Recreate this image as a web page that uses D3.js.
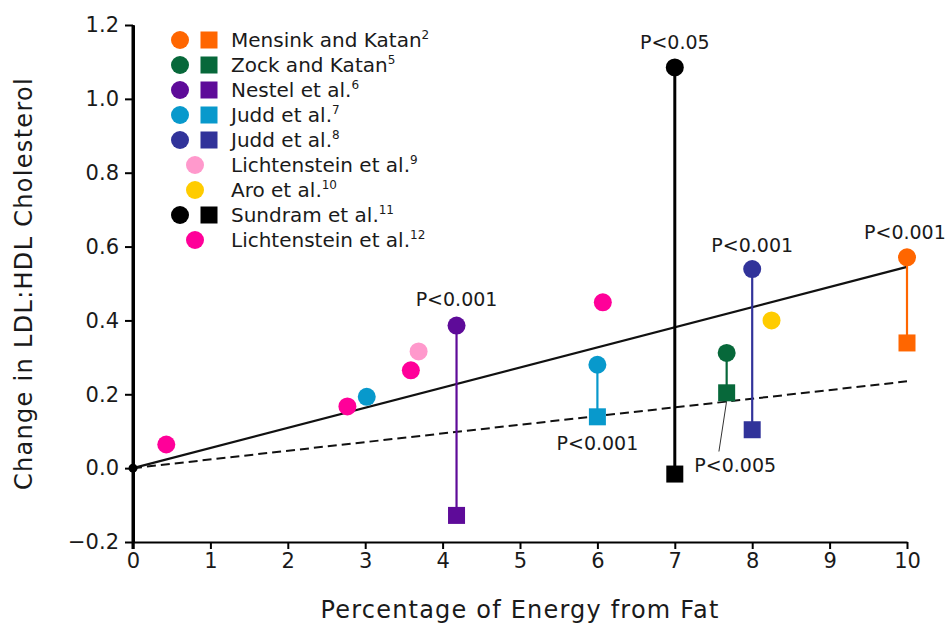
<!DOCTYPE html>
<html><head><meta charset="utf-8">
<script src="https://cdn.jsdelivr.net/npm/d3@7"></script>
<style>
body{margin:0;background:#fff;}
text{font-family:"DejaVu Sans",sans-serif;fill:#1a1a1a;}
</style></head>
<body><svg id="c" width="948" height="624"></svg>
<script>
// ---- data ----
const yTicks = [-0.2, 0.0, 0.2, 0.4, 0.6, 0.8, 1.0, 1.2];
const xTicks = [0, 1, 2, 3, 4, 5, 6, 7, 8, 9, 10];

const legendNames = ["Mensink and Katan","Zock and Katan","Nestel et al.","Judd et al.","Judd et al.","Lichtenstein et al.","Aro et al.","Sundram et al.","Lichtenstein et al."];
const legendRefs  = ["2","5","6","7","8","9","10","11","12"];
const legendSquare = [true,true,true,true,true,false,false,true,false];
const legendColors = ["#ff6600","#07683a","#5e0b99","#0899cc","#31339a","#ff99cc","#ffcc00","#000000","#ff0099"];

// paired studies: circle (trans) and square (comparison)
const pairStudy  = [0, 1, 2, 3, 4, 7];
const pairX      = [10, 7.67, 4.18, 6.0, 8.0, 7.0];
const pairCircle = [0.571, 0.312, 0.386, 0.280, 0.539, 1.085];
const pairSquare = [0.339, 0.204, -0.128, 0.139, 0.104, -0.016];

// single circles
const singleStudy = [8, 8, 8, 8, 5, 6, 3];
const singleX     = [0.43, 2.77, 3.59, 6.07, 3.69, 8.25, 3.02];
const singleY     = [0.064, 0.167, 0.265, 0.449, 0.316, 0.400, 0.193];

// regression lines
const lineX = [0, 10];
const solidY = [0, 0.545];
const dashedY = [0, 0.235];

// P value labels
const pLabels = ["P<0.001","P<0.05","P<0.001","P<0.001","P<0.001","P<0.005"];
const pLabelX = [4.18, 7.0, 8.0, 10.0, 6.0, 7.33];
const pLabelY = [0.44, 1.135, 0.585, 0.62, 0.05, -0.01];

// ---- drawing ----
const svg = d3.select("#c");
svg.append("rect").attr("width",948).attr("height",624).attr("fill","#fff");
const x = d3.scaleLinear().domain([0,10]).range([133,907]);
const y = d3.scaleLinear().domain([-0.2,1.2]).range([542,25]);

// axes
const yAxis = d3.axisLeft(y).tickValues(yTicks).tickFormat(d3.format(".1f")).tickSize(8).tickSizeOuter(0).tickPadding(6);
const gy = svg.append("g").attr("transform","translate(133,0)").call(yAxis);
gy.select(".domain").attr("stroke","#000").attr("stroke-width",3);
gy.selectAll(".tick line").attr("stroke","#000").attr("stroke-width",2);
gy.selectAll(".tick text").attr("font-size",21).attr("font-family","DejaVu Sans").attr("fill","#1a1a1a");

const xAxis = d3.axisBottom(x).tickValues(xTicks).tickFormat(d3.format("d")).tickSize(7).tickSizeOuter(0).tickPadding(4);
const gx = svg.append("g").attr("transform","translate(0,542)").call(xAxis);
gx.select(".domain").attr("stroke","#000").attr("stroke-width",2);
gx.selectAll(".tick line").attr("stroke","#000").attr("stroke-width",2);
gx.selectAll(".tick text").attr("font-size",21).attr("font-family","DejaVu Sans").attr("fill","#1a1a1a");
// extend y axis to the bottom
svg.append("line").attr("x1",133).attr("x2",133).attr("y1",y(1.2)).attr("y2",549).attr("stroke","#000").attr("stroke-width",3);

// titles
svg.append("text").attr("x",x(5)).attr("y",618).attr("text-anchor","middle")
  .attr("font-size",24).attr("letter-spacing",1.2).text("Percentage of Energy from Fat");
svg.append("text").attr("transform","translate(32,"+y(0.5)+") rotate(-90)").attr("text-anchor","middle")
  .attr("font-size",24).attr("letter-spacing",1.3).text("Change in LDL:HDL Cholesterol");

// regression lines
const lineGen = d3.line().x(d=>x(d[0])).y(d=>y(d[1]));
svg.append("path").attr("d",lineGen(lineX.map((v,i)=>[v,dashedY[i]]))).attr("fill","none")
  .attr("stroke","#111").attr("stroke-width",2).attr("stroke-dasharray","9,5");
svg.append("path").attr("d",lineGen(lineX.map((v,i)=>[v,solidY[i]]))).attr("fill","none")
  .attr("stroke","#111").attr("stroke-width",2.2);

// vertical connectors
pairX.forEach((px,i)=>{
  const c = legendColors[pairStudy[i]];
  svg.append("line").attr("x1",x(px)).attr("x2",x(px)).attr("y1",y(pairCircle[i])).attr("y2",y(pairSquare[i]))
    .attr("stroke",c).attr("stroke-width", c==="#000000"?3:2.2);
});

// leader line for P<0.005
svg.append("line").attr("x1",x(7.67)).attr("y1",y(pairSquare[1])+8).attr("x2",x(7.57)).attr("y2",y(0.045))
  .attr("stroke","#333").attr("stroke-width",1);

// markers
const R = 9, S = 17;
pairX.forEach((px,i)=>{
  const c = legendColors[pairStudy[i]];
  svg.append("rect").attr("x",x(px)-S/2).attr("y",y(pairSquare[i])-S/2).attr("width",S).attr("height",S).attr("fill",c);
  svg.append("circle").attr("cx",x(px)).attr("cy",y(pairCircle[i])).attr("r",R).attr("fill",c);
});
singleX.forEach((sx,i)=>{
  svg.append("circle").attr("cx",x(sx)).attr("cy",y(singleY[i])).attr("r",R).attr("fill",legendColors[singleStudy[i]]);
});
// origin dot
svg.append("circle").attr("cx",x(0)).attr("cy",y(0)).attr("r",4.5).attr("fill","#000");

// P labels
pLabels.forEach((t,i)=>{
  const anchor = (i===3||i===5) ? "start" : "middle";
  const dx = i===3 ? -43 : (i===5 ? -6 : 0);
  svg.append("text").attr("x",x(pLabelX[i])+dx).attr("y",y(pLabelY[i])).attr("text-anchor",anchor)
    .attr("font-size",19).text(t);
});

// legend
const lg = svg.append("g");
legendNames.forEach((n,i)=>{
  const cy = 40 + i*25;
  const c = legendColors[i];
  if(legendSquare[i]){
    lg.append("circle").attr("cx",180).attr("cy",cy).attr("r",R).attr("fill",c);
    lg.append("rect").attr("x",209-S/2).attr("y",cy-S/2).attr("width",S).attr("height",S).attr("fill",c);
  } else {
    lg.append("circle").attr("cx",195).attr("cy",cy).attr("r",R).attr("fill",c);
  }
  const t = lg.append("text").attr("x",231).attr("y",cy+7).attr("font-size",20);
  t.append("tspan").text(n);
  t.append("tspan").attr("font-size",12).attr("dy",-8).text(legendRefs[i]);
});
</script></body></html>
